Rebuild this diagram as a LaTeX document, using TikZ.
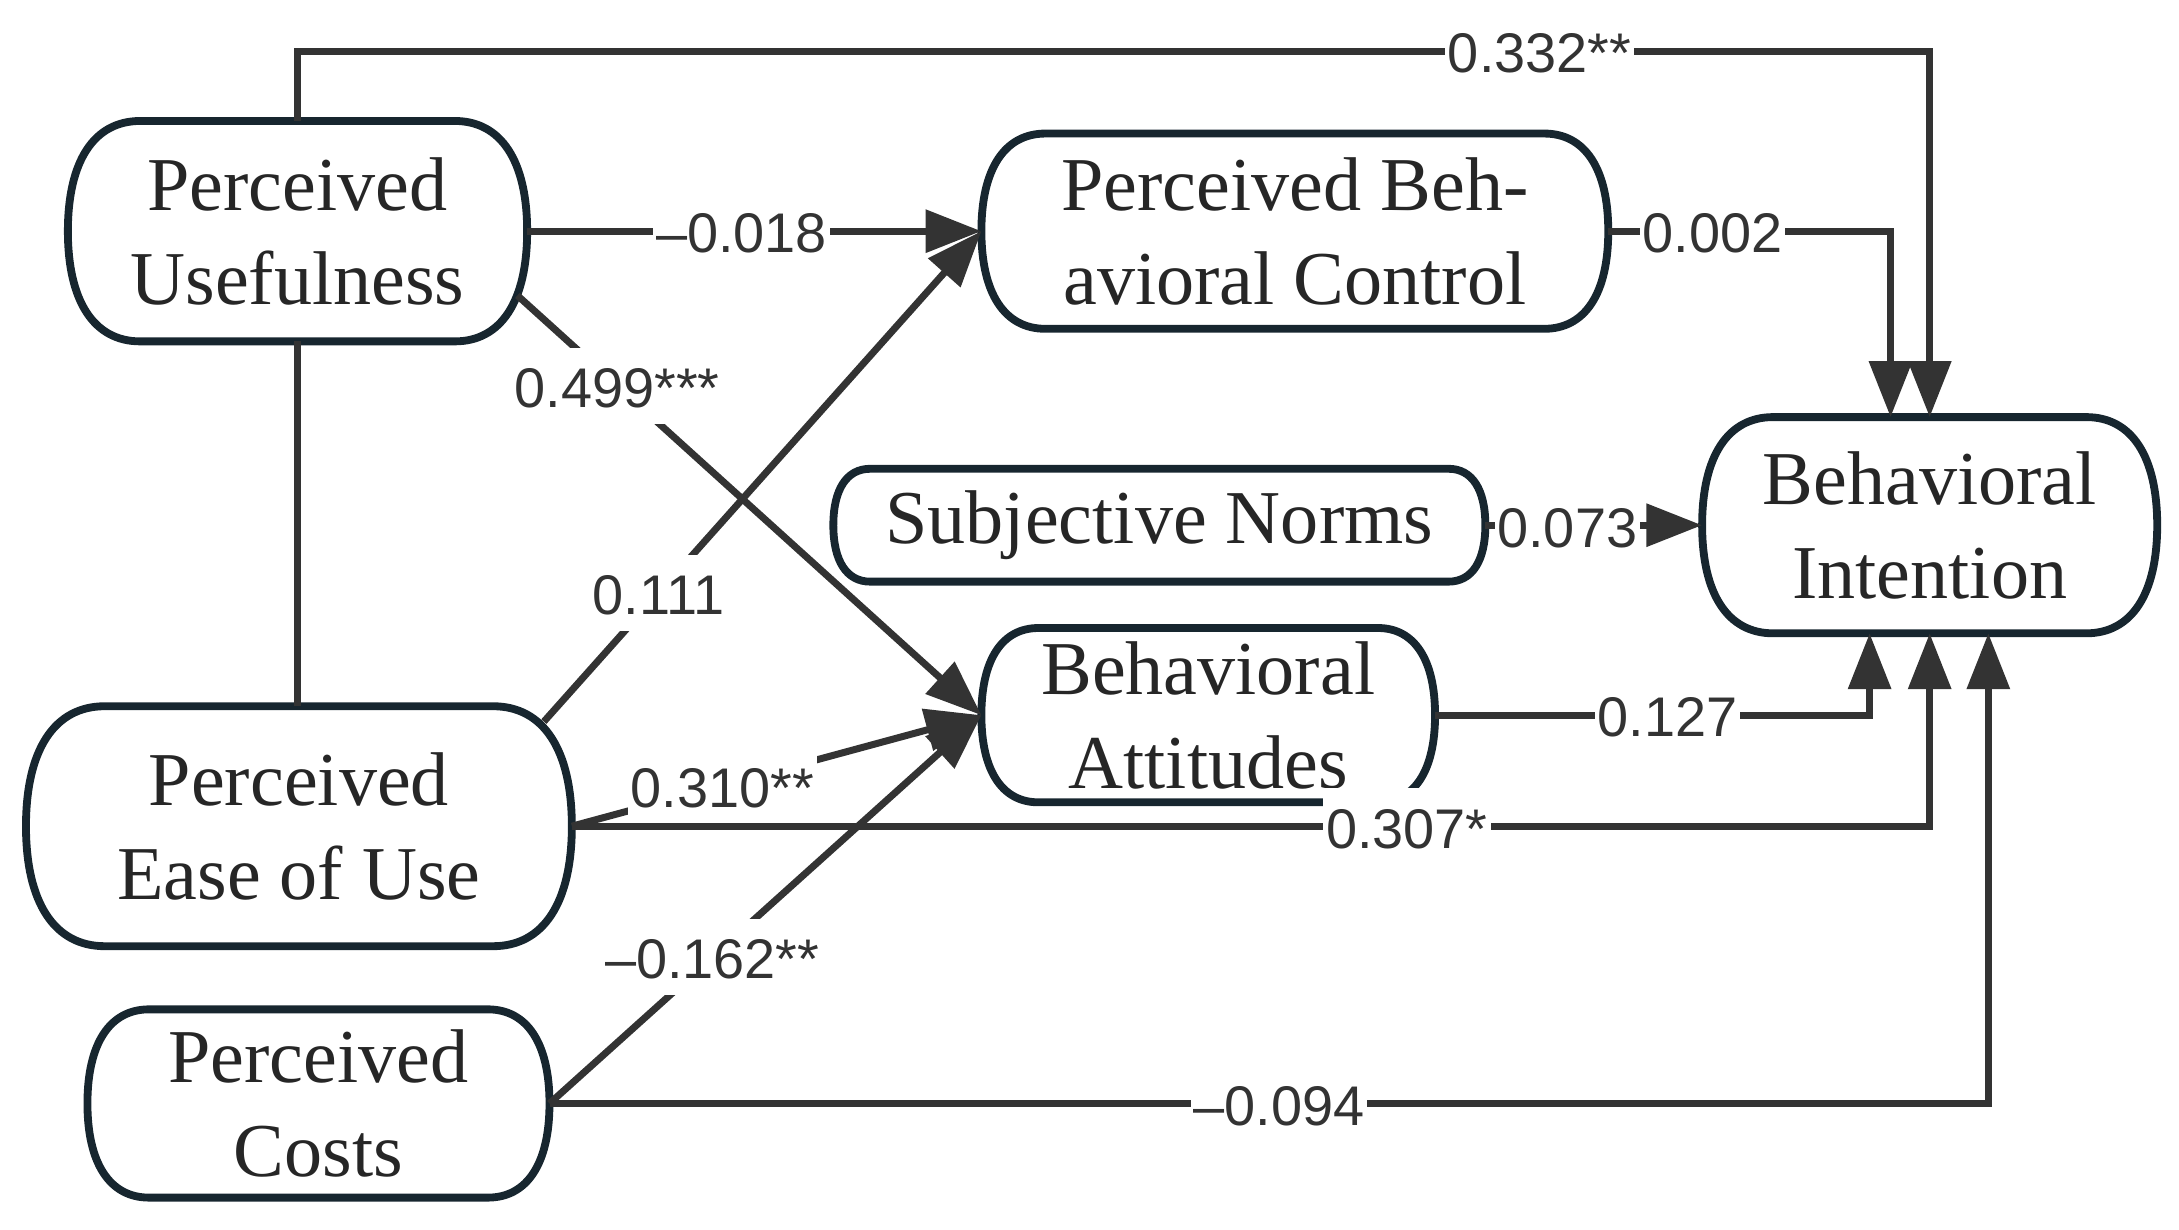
\documentclass[tikz,border=0pt]{standalone}
\usepackage{fontspec}
\setmainfont{Liberation Serif}
\newfontfamily\lblfont{Liberation Sans}
\usetikzlibrary{arrows.meta,calc}
\definecolor{bord}{HTML}{17262F}
\definecolor{lin}{HTML}{333333}
\definecolor{txt}{HTML}{262626}
\tikzset{
  boxtext/.style={inner sep=0pt, align=center, font=\fontsize{27.25}{33.5}\selectfont, text=txt},
  boxline/.style={draw=bord, line width=2.8pt},
  conn/.style={draw=lin, line width=2.5pt},
  arr/.style={-{Triangle[length=20pt,width=15pt]}},
  lbl/.style={fill=white, inner xsep=1pt, inner ysep=0pt, text height=21.4pt, text depth=5.8pt,
    font=\lblfont\fontsize{20}{24}\selectfont, text=lin},
}
\newcommand\mybox[6]{%
  \node[boxtext, minimum width=#4*0.5pt, minimum height=#5*0.5pt] (#1) at (#2,#3) {#6};
  \pgfmathsetmacro\bxr{0.33*#5}%
  \pgfmathsetmacro\bxa{0.36*\bxr}%
  \pgfmathsetmacro\bxb{0.32*#5}%
  \draw[boxline] ($(#1.north west)+(\bxr,0)$) -- ($(#1.north east)+(-\bxr,0)$)
    .. controls ($(#1.north east)+(-\bxa,0)$) and ($(#1.east)+(0,-\bxb)$) .. (#1.east)
    .. controls ($(#1.east)+(0,\bxb)$) and ($(#1.south east)+(-\bxa,0)$) .. ($(#1.south east)+(-\bxr,0)$)
    -- ($(#1.south west)+(\bxr,0)$)
    .. controls ($(#1.south west)+(\bxa,0)$) and ($(#1.west)+(0,\bxb)$) .. (#1.west)
    .. controls ($(#1.west)+(0,-\bxb)$) and ($(#1.north west)+(\bxa,0)$) .. cycle;
}
\begin{document}
\begin{tikzpicture}[x=0.5pt,y=-0.5pt]
\useasboundingbox (0,0) rectangle (1560,880);
% boxes
\mybox{pu}{213}{165.5}{328}{157}{Perceived\\Usefulness}
\mybox{pbc}{927}{165.5}{448}{139}{Perceived Beh-\\avioral Control}
\mybox{sn}{830}{376}{466}{80}{Subjective Norms}
\mybox{ba}{865}{512}{324}{124}{Behavioral\\Attitudes}
\mybox{bi}{1381.5}{376}{325}{154}{Behavioral\\Intention}
\mybox{peou}{214}{591.5}{390}{171}{Perceived\\Ease of Use}
\mybox{pc}{228}{790}{330}{134}{Perceived\\Costs}
% helper coordinates
\coordinate (topl) at ($(pu.north)+(0,-50)$);
\coordinate (topr) at (bi.north |- topl);
\coordinate (bitA) at ($(bi.north)+(-28,0)$);
\coordinate (bibA) at ($(bi.south)+(-43,0)$);
\coordinate (bibC) at ($(bi.south)+(42,0)$);
\coordinate (pus) at ($(pu.east)+(-7,46)$);
\coordinate (peous) at ($(peou.north east)+(-20,11)$);
% connectors
\draw[conn] (pu.south) -- (pu.south |- peou.north);
\draw[conn,arr] (pu.north) -- (topl) -- node[lbl,pos=0.761] (l1) {0.332**} (topr) -- (bi.north);
\draw[conn,arr] (pu.east) -- node[lbl,pos=0.472] (l2) {–0.018} (pbc.west);
\draw[conn,arr] (pbc.east) -- node[lbl,pos=0.37] (l3) {0.002} (pbc.east -| bitA) -- (bitA);
\draw[conn,arr] (sn.east) -- node[lbl,pos=0.378] (l4) {0.073} (bi.west);
\draw[conn,arr] (ba.east) -- node[lbl,pos=0.535] (l5) {0.127} (ba.east -| bibA) -- (bibA);
\draw[conn,arr] (peou.east) -- node[lbl,pos=0.615] (l6) {0.307*} (peou.east -| bi.south) -- (bi.south);
\draw[conn,arr] (pc.east) -- node[lbl,pos=0.507] (l7) {–0.094} (pc.east -| bibC) -- (bibC);
\draw[conn,arr] (pus) -- node[lbl,pos=0.215] (l8) {0.499***} (ba.west);
\draw[conn,arr] (peous) -- node[lbl,pos=0.262] (l9) {0.111} (pbc.west);
\draw[conn,arr] (peou.east) -- node[lbl,pos=0.367] (l10) {0.310**} (ba.west);
\draw[conn,arr] (pc.east) -- node[lbl,pos=0.377] (l11) {–0.162**} (ba.west);
\end{tikzpicture}
\end{document}
